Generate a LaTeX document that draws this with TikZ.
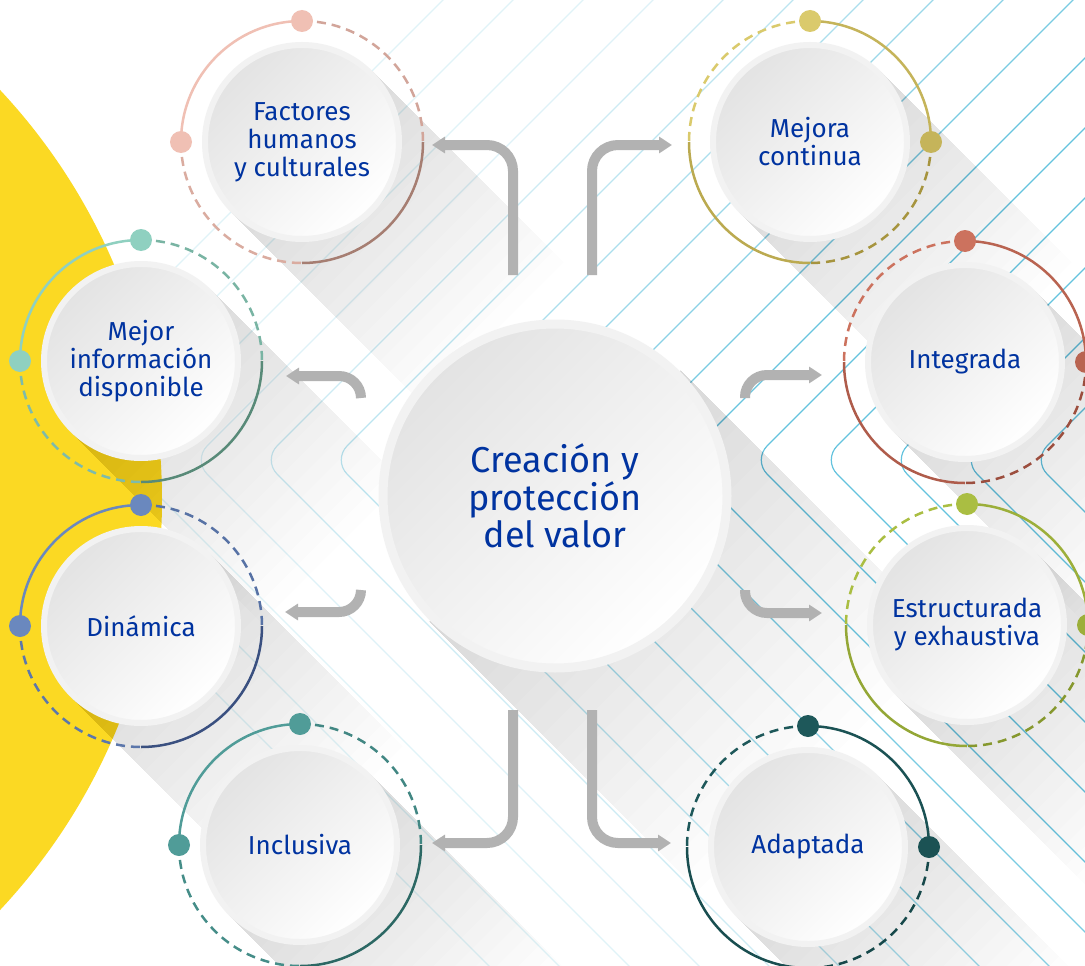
\documentclass[tikz,border=0pt]{standalone}
\usepackage{fontspec}
\setmainfont{Fira Sans}
\usetikzlibrary{arrows.meta,calc}

\definecolor{txtblue}{RGB}{0,51,160}
\definecolor{sunny}{RGB}{251,217,35}
\definecolor{stripe}{RGB}{100,195,222}
\definecolor{arrgray}{RGB}{178,178,178}
\definecolor{humL}{RGB}{240,192,180}
\definecolor{humD}{RGB}{166,126,114}
\definecolor{mejL}{RGB}{218,202,108}
\definecolor{mejD}{RGB}{166,148,62}
\definecolor{infL}{RGB}{143,208,192}
\definecolor{infD}{RGB}{88,138,120}
\definecolor{dinL}{RGB}{106,136,190}
\definecolor{dinD}{RGB}{58,80,128}
\definecolor{incL}{RGB}{80,156,152}
\definecolor{incD}{RGB}{44,104,100}
\definecolor{intL}{RGB}{204,114,94}
\definecolor{intD}{RGB}{156,78,62}
\definecolor{estL}{RGB}{170,190,66}
\definecolor{estD}{RGB}{134,152,46}
\definecolor{adaL}{RGB}{30,88,90}
\definecolor{adaD}{RGB}{22,72,74}

\tikzset{
  disc/.style={circle, minimum size=194pt, inner sep=0pt, draw=black!5, line width=6pt,
    top color=black!11, bottom color=white, shading angle=45,
    text=txtblue, align=center, font=\fontsize{26}{28}\selectfont},
  bigdisc/.style={disc, minimum size=344pt, line width=9pt, font=\fontsize{36}{37.5}\selectfont},
  ring/.style={line width=2.5pt},
  dashring/.style={line width=2.5pt, dash pattern=on 9pt off 6pt},
  bendarrow/.style={line width=10pt, arrgray, -{Triangle[length=13pt,width=16pt]}},
}

\begin{document}
\begin{tikzpicture}[x=1pt,y=-1pt]
\useasboundingbox (0,0) rectangle (1085,966);
\clip (0,0) rectangle (1085,966);
\fill[white] (0,0) rectangle (1085,966);

% stripes
\foreach \k in {0,...,16}{
  \pgfmathsetmacro\vx{70*\k-17}
  \pgfmathsetmacro\op{min(1,max(.2,(\vx-60)/640))}
  \draw[stripe, line width=1.2pt, opacity=\op, rounded corners=20pt]
    (\vx+520,-60) -- (\vx,460) -- (\vx+580,1040);
}

% yellow half disc
\fill[sunny] (-438,500) circle (600pt);

% centres
\coordinate (c-valor) at (555,496);
\coordinate (c-humanos) at (302,142);
\coordinate (c-mejora) at (810,142);
\coordinate (c-info) at (141,361);
\coordinate (c-integrada) at (965,362);
\coordinate (c-dinamica) at (141,626);
\coordinate (c-estruct) at (967,625);
\coordinate (c-inclusiva) at (300,845);
\coordinate (c-adaptada) at (808,847);

% long shadows
\foreach \c in {humanos,mejora,info,integrada,dinamica,estruct,inclusiva,adaptada}{
  \foreach \l in {15,30,...,270}
    \fill[black, opacity=.009] (c-\c) ++(-45:100) -- ++(45:\l) -- ++(135:200) -- ++(225:\l) -- cycle;
}
\foreach \l in {20,40,...,380}
  \fill[black, opacity=.009] (c-valor) ++(-45:178) -- ++(45:\l) -- ++(135:356) -- ++(225:\l) -- cycle;

% discs
\node[bigdisc] (valor) at (c-valor) {Creación y\\protección\\del valor};
\node[disc] (humanos) at (c-humanos) {Factores\\humanos\\y culturales};
\node[disc] (mejora) at (c-mejora) {Mejora\\continua};
\node[disc] (info) at (c-info) {Mejor\\información\\disponible};
\node[disc] (integrada) at (c-integrada) {Integrada};
\node[disc] (dinamica) at (c-dinamica) {Dinámica};
\node[disc] (estruct) at (c-estruct) {Estructurada\\y exhaustiva};
\node[disc] (inclusiva) at (c-inclusiva) {Inclusiva};
\node[disc] (adaptada) at (c-adaptada) {Adaptada};

% rings, left side
\foreach \n/\lc/\dc in {humanos/humL/humD, info/infL/infD, dinamica/dinL/dinD, inclusiva/incL/incD}{
  \draw[ring, \lc] (c-\n) ++(180:121) arc[start angle=180, end angle=270, radius=121];
  \draw[dashring, \lc!60!\dc] (c-\n) ++(270:121) arc[start angle=270, end angle=360, radius=121];
  \draw[ring, \dc] (c-\n) ++(0:121) arc[start angle=0, end angle=90, radius=121];
  \draw[dashring, \lc!70!\dc] (c-\n) ++(180:121) arc[start angle=180, end angle=90, radius=121];
  \fill[\lc] (c-\n) ++(270:121) circle (11pt);
  \fill[\lc] (c-\n) ++(180:121) circle (11pt);
}
% rings, right side
\foreach \n/\lc/\dc in {mejora/mejL/mejD, integrada/intL/intD, estruct/estL/estD, adaptada/adaL/adaD}{
  \draw[ring, \lc!60!\dc] (c-\n) ++(270:121) arc[start angle=270, end angle=360, radius=121];
  \draw[dashring, \lc] (c-\n) ++(270:121) arc[start angle=270, end angle=180, radius=121];
  \draw[ring, \lc!40!\dc] (c-\n) ++(180:121) arc[start angle=180, end angle=90, radius=121];
  \draw[dashring, \dc] (c-\n) ++(0:121) arc[start angle=0, end angle=90, radius=121];
  \fill[\lc] (c-\n) ++(270:121) circle (11pt);
  \fill[\lc!60!\dc] (c-\n) ++(0:121) circle (11pt);
}

% arrows
\coordinate (t1) at (513,275);
\coordinate (t2) at (592,275);
\coordinate (t3) at (361,398);
\coordinate (t4) at (361,590);
\coordinate (t5) at (745,398);
\coordinate (t6) at (745,590);
\coordinate (t7) at (513,710);
\coordinate (t8) at (592,710);
\draw[bendarrow, rounded corners=26pt] (t1) |- ([shift={(30,3)}]humanos.east);
\draw[bendarrow, rounded corners=26pt] (t2) |- ([shift={(-38,3)}]mejora.west);
\draw[bendarrow, rounded corners=22pt] (t3) |- ([shift={(45,15)}]info.east);
\draw[bendarrow, rounded corners=22pt] (t4) |- ([shift={(44,-14)}]dinamica.east);
\draw[bendarrow, rounded corners=22pt] (t5) |- ([shift={(-43,13)}]integrada.west);
\draw[bendarrow, rounded corners=22pt] (t6) |- ([shift={(-45,-12)}]estruct.west);
\draw[bendarrow, rounded corners=26pt] (t7) |- ([shift={(32,-2)}]inclusiva.east);
\draw[bendarrow, rounded corners=26pt] (t8) |- ([shift={(-37,-4)}]adaptada.west);
\end{tikzpicture}
\end{document}
